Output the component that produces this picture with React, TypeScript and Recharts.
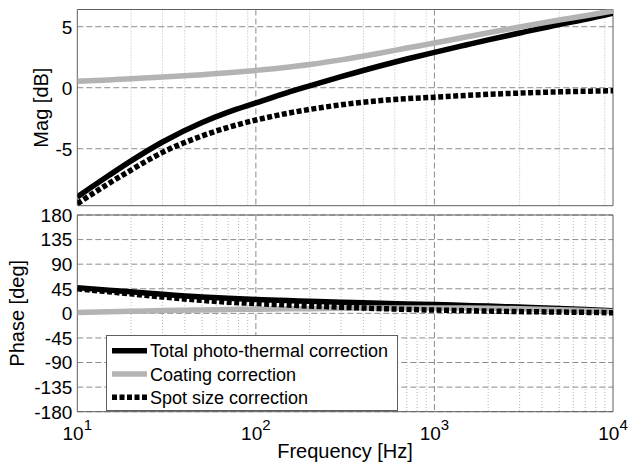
import { LineChart, Line, XAxis, YAxis, CartesianGrid, ReferenceArea } from 'recharts';

// frequency points [Hz]
const freq = [10, 15, 20, 30, 50, 70, 100, 150, 200, 300, 500, 700, 1000, 1500, 2000, 3000, 5000, 7000, 10000];

// magnitude [dB]
const magTotal = [-8.95, -7.2, -6.0, -4.45, -2.85, -2.0, -1.25, -0.4, 0.15, 0.9, 1.8, 2.35, 2.9, 3.5, 3.92, 4.48, 5.18, 5.6, 6.1];
const magCoating = [0.52, 0.64, 0.73, 0.87, 1.07, 1.22, 1.42, 1.68, 1.9, 2.28, 2.85, 3.25, 3.66, 4.15, 4.5, 4.98, 5.55, 5.9, 6.3];
const magSpot = [-9.5, -7.85, -6.75, -5.3, -3.95, -3.25, -2.65, -2.1, -1.78, -1.4, -1.05, -0.9, -0.78, -0.63, -0.54, -0.44, -0.34, -0.29, -0.25];

// phase [deg]
const phTotal = [47, 42.5, 39.5, 35, 30, 27.5, 25.5, 23.5, 22, 20.5, 18.5, 17.3, 16, 14.5, 13.3, 11.5, 9, 7, 4.5];
const phCoating = [1.5, 3, 3.8, 5, 6.3, 7, 7.6, 8.2, 8.6, 9.2, 9.8, 10, 10, 9.6, 9.2, 8.3, 6.6, 5.2, 3.5];
const phSpot = [45, 39.5, 35.7, 30, 23.7, 20.5, 17.9, 15.3, 13.4, 11.3, 8.7, 7.3, 6, 4.9, 4.1, 3.2, 2.4, 1.8, 1.0];

const decadeTicks = [10, 100, 1000, 10000];
const majorFreqs = [100, 1000];
const minorFreqs = [20, 30, 40, 50, 60, 70, 80, 90, 200, 300, 400, 500, 600, 700, 800, 900, 2000, 3000, 4000, 5000, 6000, 7000, 8000, 9000];
const magTicks = [5, 0, -5];
const magDomain = [-9.67, 6.41];
const phaseTicks = [180, 135, 90, 45, 0, -45, -90, -135, -180];
const phaseDomain = [-180, 180];

const legendItems = ['Total photo-thermal correction', 'Coating correction', 'Spot size correction'];

const magData = freq.map((f, i) => ({ f, total: magTotal[i], coating: magCoating[i], spot: magSpot[i] }));
const phaseData = freq.map((f, i) => ({ f, total: phTotal[i], coating: phCoating[i], spot: phSpot[i] }));

const FONT = '"Liberation Sans", Arial, Helvetica, sans-serif';
const FRAME = '#5e5e5e';
const GRID = '#8c8c8c';
const MINOR = '#b8b8b8';
const GRAY_LINE = '#b3b3b3';
const LW = 5.5;

const YTick = (props: any) => {
  const { x, y, payload } = props;
  return (
    <text x={x} y={y + 6.8} textAnchor="end" fontSize={19} fontFamily={FONT} fill="#000">
      {payload.value}
    </text>
  );
};

const XTick = (props: any) => {
  const { x, y, payload } = props;
  const exp = Math.round(Math.log10(payload.value));
  return (
    <text x={x} y={y + 28.3} textAnchor="middle" fontSize={19} fontFamily={FONT} fill="#000">
      <tspan>10</tspan>
      <tspan dy={-10} fontSize={15}>{exp}</tspan>
    </text>
  );
};

const renderSeries = () => [
  <Line key="total" type="monotone" dataKey="total" stroke="#000" strokeWidth={LW} dot={false} activeDot={false} isAnimationActive={false} />,
  <Line key="coating" type="monotone" dataKey="coating" stroke={GRAY_LINE} strokeWidth={LW} dot={false} activeDot={false} isAnimationActive={false} />,
  <Line key="spot" type="monotone" dataKey="spot" stroke="#000" strokeWidth={LW} strokeDasharray="5 2.5" dot={false} activeDot={false} isAnimationActive={false} />,
];

export default function App() {
  return (
    <div style={{ position: 'absolute', left: 0, top: 0, width: 628, height: 462, background: '#fff', fontFamily: FONT, overflow: 'hidden' }}>
      {/* magnitude panel */}
      <div style={{ position: 'absolute', left: 0, top: 0 }}>
        <LineChart width={628} height={210} data={magData} margin={{ top: 9.5, right: 15, bottom: 4.3, left: 0 }}>
          <CartesianGrid vertical={true} horizontal={false} verticalValues={minorFreqs} stroke={MINOR} strokeDasharray="1 2" />
          <CartesianGrid vertical={true} horizontal={true} verticalValues={majorFreqs} horizontalValues={magTicks} stroke={GRID} strokeDasharray="6 3" />
          <XAxis dataKey="f" type="number" scale="log" domain={[10, 10000]} ticks={decadeTicks} allowDataOverflow hide />
          <YAxis type="number" domain={magDomain} ticks={magTicks} allowDataOverflow width={77.3} axisLine={false} tickLine={false} tickSize={0} tickMargin={5} tick={<YTick />} />
          {renderSeries()}
          <ReferenceArea x1={10} x2={10000} y1={magDomain[0]} y2={magDomain[1]} fill="none" stroke={FRAME} strokeWidth={1} />
        </LineChart>
      </div>

      {/* phase panel */}
      <div style={{ position: 'absolute', left: 0, top: 195 }}>
        <LineChart width={628} height={267} data={phaseData} margin={{ top: 20, right: 15, bottom: 0, left: 0 }}>
          <CartesianGrid vertical={true} horizontal={false} verticalValues={minorFreqs} stroke={MINOR} strokeDasharray="1 2" />
          <CartesianGrid vertical={true} horizontal={true} verticalValues={majorFreqs} horizontalValues={phaseTicks} stroke={GRID} strokeDasharray="6 3" />
          <XAxis dataKey="f" type="number" scale="log" domain={[10, 10000]} ticks={decadeTicks} allowDataOverflow height={50.3} axisLine={false} tickLine={false} tickSize={0} tickMargin={0} tick={<XTick />} interval={0} />
          <YAxis type="number" domain={phaseDomain} ticks={phaseTicks} allowDataOverflow width={77.3} axisLine={false} tickLine={false} tickSize={0} tickMargin={5} tick={<YTick />} interval={0} />
          {renderSeries()}
          <ReferenceArea x1={10} x2={10000} y1={phaseDomain[0]} y2={phaseDomain[1]} fill="none" stroke={FRAME} strokeWidth={1} />
        </LineChart>
      </div>

      {/* axis titles and legend */}
      <svg width={628} height={462} style={{ position: 'absolute', left: 0, top: 0, pointerEvents: 'none' }}>
        <text x={48} y={107.6} transform="rotate(-90 48 107.6)" textAnchor="middle" fontSize={20} fontFamily={FONT}>Mag [dB]</text>
        <text x={24} y={313.3} transform="rotate(-90 24 313.3)" textAnchor="middle" fontSize={20} fontFamily={FONT}>Phase [deg]</text>
        <text x={345} y={458} textAnchor="middle" fontSize={20} fontFamily={FONT}>Frequency [Hz]</text>

        <rect x={106.5} y={335.5} width={291} height={75} fill="#fff" stroke={FRAME} strokeWidth={1} />
        {legendItems.map((label, i) => {
          const cy = 350.7 + i * 23.3;
          return (
            <g key={label}>
              <line x1={112} x2={147} y1={cy} y2={cy}
                stroke={i === 1 ? GRAY_LINE : '#000'} strokeWidth={LW}
                strokeDasharray={i === 2 ? '5 2.5' : undefined} />
              <text x={150} y={cy + 6.5} fontSize={18} fontFamily={FONT}>{label}</text>
            </g>
          );
        })}
      </svg>
    </div>
  );
}
